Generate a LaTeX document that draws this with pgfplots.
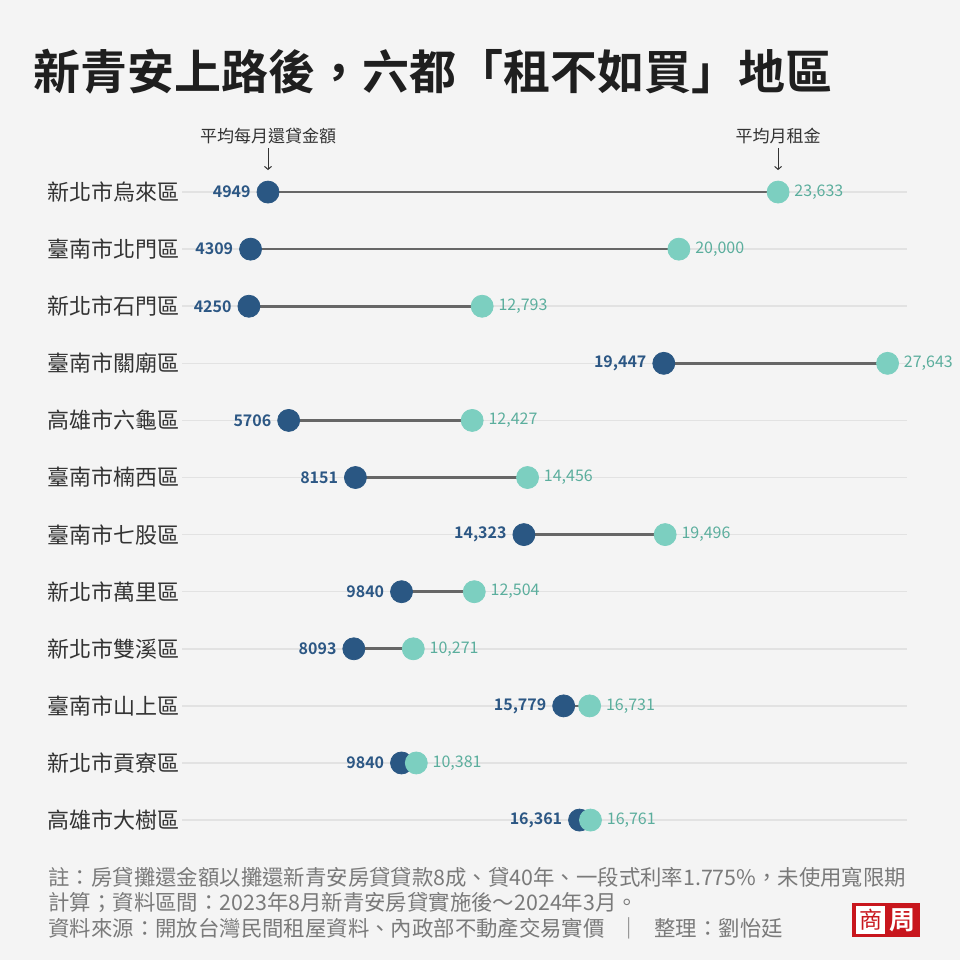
\documentclass[border=0pt]{standalone}
\usepackage{fontspec}
\setmainfont{Noto Sans CJK TC}[BoldFont={Noto Sans CJK TC Bold}]
\usepackage{pgfplots}
\usepackage{pgfplotstable}
\pgfplotsset{compat=1.18}
\usetikzlibrary{arrows.meta}
\definecolor{bgcol}{HTML}{F4F4F4}
\definecolor{gridcol}{HTML}{E2E2E2}
\definecolor{segcol}{HTML}{666666}
\definecolor{darkdot}{HTML}{2A5783}
\definecolor{tealdot}{HTML}{7CCFC0}
\definecolor{darklab}{HTML}{2C5784}
\definecolor{teallab}{HTML}{5BAE9D}
\definecolor{labtext}{HTML}{333333}
\definecolor{notecol}{HTML}{7A7A7A}
\definecolor{logored}{HTML}{C8161D}

\pgfplotstableread{
row loan rent
1 4949 23633
2 4309 20000
3 4250 12793
4 19447 27643
5 5706 12427
6 8151 14456
7 14323 19496
8 9840 12504
9 8093 10271
10 15779 16731
11 9840 10381
12 16361 16761
}\datatable

\begin{document}
\begin{tikzpicture}
\fill[bgcol] (0,0) rectangle (480bp,-480bp);
\node[anchor=west, inner sep=0pt, font=\fontsize{23.5bp}{28bp}\selectfont\bfseries, text=black!88] at (16.5bp,-36bp) {新青安上路後，六都「租不如買」地區};

\begin{axis}[
  at={(91bp,-81.75bp)}, anchor=north west,
  scale only axis,
  width=362.5bp, height=342.55bp,
  xmin=1798.5, xmax=28355,
  ymin=0.5, ymax=12.5, y dir=reverse,
  clip=false,
  axis line style={draw=none},
  major tick style={draw=none},
  xtick=\empty,
  ytick={1,...,12},
  yticklabels={新北市烏來區,臺南市北門區,新北市石門區,臺南市關廟區,高雄市六龜區,臺南市楠西區,臺南市七股區,新北市萬里區,新北市雙溪區,臺南市山上區,新北市貢寮區,高雄市大樹區},
  yticklabel style={inner sep=0pt, xshift=-1bp, font=\fontsize{11bp}{13bp}\selectfont, text=labtext},
  ymajorgrids,
  major grid style={color=gridcol, line width=0.75bp},
  /pgf/number format/.cd, assume math mode=true, fixed, precision=0, 1000 sep={,}, min exponent for 1000 sep=4,
]
% connecting segments
\addplot[only marks, mark=none,
  error bars/.cd, x dir=plus, x explicit, error mark=none,
  error bar style={draw=segcol, line width=1.3bp}]
  table[x=loan, y=row, x error expr=\thisrow{rent}-\thisrow{loan}] {\datatable};
% loan dots
\addplot[color=darkdot, only marks, mark=*, mark size=5.5bp, mark options={solid, fill=darkdot, draw=darkdot},
  point meta=explicit, nodes near coords,
  every node near coord/.append style={anchor=east, inner sep=0pt, xshift=-8.5bp, font=\fontsize{8bp}{10bp}\selectfont\bfseries, text=darklab}]
  table[x=loan, y=row, meta=loan] {\datatable};
% rent dots
\addplot[color=tealdot, only marks, mark=*, mark size=5.5bp, mark options={solid, fill=tealdot, draw=tealdot},
  point meta=explicit, nodes near coords,
  every node near coord/.append style={anchor=west, inner sep=0pt, xshift=8bp, font=\fontsize{8bp}{10bp}\selectfont, text=teallab}]
  table[x=rent, y=row, meta=rent] {\datatable};
% annotations
\node[font=\fontsize{8.5bp}{10bp}\selectfont, text=labtext, inner sep=0pt] at ([yshift=28bp]axis cs:4949,1) {平均每月還貸金額};
\draw[labtext, line width=0.5bp, -{Straight Barb[length=1.5bp, width=3.5bp]}] ([yshift=22bp]axis cs:4949,1) -- ([yshift=11bp]axis cs:4949,1);
\node[font=\fontsize{8.5bp}{10bp}\selectfont, text=labtext, inner sep=0pt] at ([yshift=28bp]axis cs:23633,1) {平均月租金};
\draw[labtext, line width=0.5bp, -{Straight Barb[length=1.5bp, width=3.5bp]}] ([yshift=22bp]axis cs:23633,1) -- ([yshift=11bp]axis cs:23633,1);
\end{axis}

% footnote
\begin{scope}[every node/.style={anchor=west, inner sep=0pt, font=\fontsize{10.7bp}{12bp}\selectfont, text=notecol}]
\node at (24bp,-438.5bp) {註：房貸攤還金額以攤還新青安房貸貸款8成、貸40年、一段式利率1.775\%，未使用寬限期};
\node at (24bp,-451.5bp) {計算；資料區間：2023年8月新青安房貸實施後～2024年3月。};
\node at (24bp,-464bp) {資料來源：開放台灣民間租屋資料、內政部不動產交易實價};
\node at (309bp,-464bp) {｜};
\node at (327bp,-464bp) {整理：劉怡廷};
\end{scope}
% logo
\fill[logored] (426bp,-451.5bp) rectangle (460bp,-468.5bp);
\fill[white] (428bp,-453bp) rectangle (442.5bp,-467bp);
\node[inner sep=0pt, font=\fontsize{11.5bp}{14bp}\selectfont, text=logored] at (435.25bp,-460bp) {商};
\node[inner sep=0pt, font=\fontsize{13bp}{14bp}\selectfont\bfseries, text=white] at (451.25bp,-460bp) {周};
\pgfresetboundingbox
\useasboundingbox (0,0) rectangle (480bp,-480bp);
\end{tikzpicture}
\end{document}
